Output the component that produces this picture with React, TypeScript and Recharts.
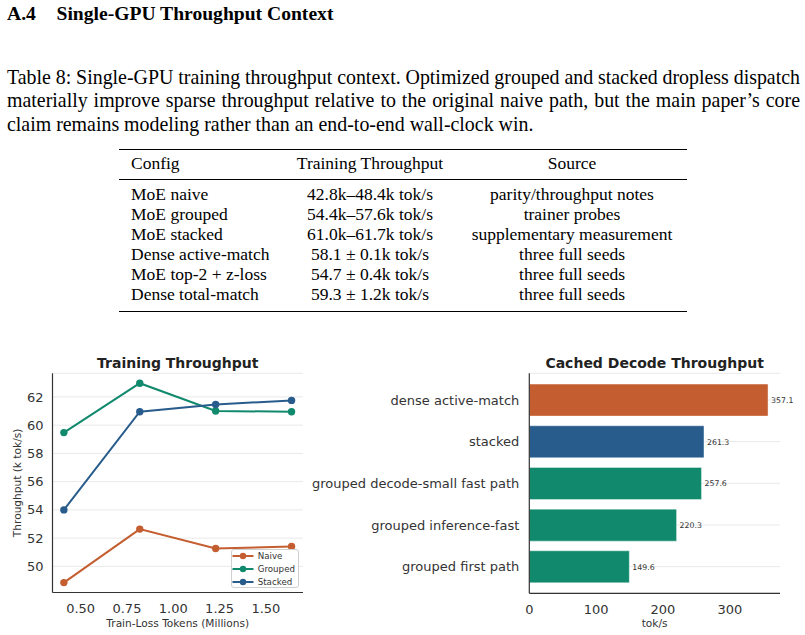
import {
  Bar,
  BarChart,
  CartesianGrid,
  Cell,
  LabelList,
  Line,
  LineChart,
  XAxis,
  YAxis,
} from "recharts";

// table 8
const tableConfigs = [
  "MoE naive",
  "MoE grouped",
  "MoE stacked",
  "Dense active-match",
  "MoE top-2 + z-loss",
  "Dense total-match",
];
const tableThroughput = [
  "42.8k–48.4k tok/s",
  "54.4k–57.6k tok/s",
  "61.0k–61.7k tok/s",
  "58.1 ± 0.1k tok/s",
  "54.7 ± 0.4k tok/s",
  "59.3 ± 1.2k tok/s",
];
const tableSources = [
  "parity/throughput notes",
  "trainer probes",
  "supplementary measurement",
  "three full seeds",
  "three full seeds",
  "three full seeds",
];

const captionLines = [
  "Table 8: Single-GPU training throughput context. Optimized grouped and stacked dropless dispatch",
  "materially improve sparse throughput relative to the original naive path, but the main paper’s core",
  "claim remains modeling rather than an end-to-end wall-clock win.",
];

// left panel
const tokenMillions = [0.4096, 0.8192, 1.2288, 1.6384];
const naiveKtok = [48.85, 52.64, 51.27, 51.41];
const groupedKtok = [59.47, 62.97, 61.0, 60.95];
const stackedKtok = [54.0, 60.95, 61.46, 61.75];
const throughputTicks = [50, 52, 54, 56, 58, 60, 62];
const tokenTicks = [0.5, 0.75, 1.0, 1.25, 1.5];

// right panel
const decodeConfigs = [
  "dense active-match",
  "stacked",
  "grouped decode-small fast path",
  "grouped inference-fast",
  "grouped first path",
];
const decodeTokPerSec = [357.1, 261.3, 257.6, 220.3, 149.6];
const decodeKinds = ["dense", "stacked", "grouped", "grouped", "grouped"];
const decodeTicks = [0, 100, 200, 300];

const ORANGE = "#c45e30";
const GREEN = "#10896c";
const BLUE = "#285c8c";
const kindColor: Record<string, string> = { dense: ORANGE, stacked: BLUE, grouped: GREEN };

const SERIF = "'Liberation Serif', 'Times New Roman', serif";
const SANS = "'DejaVu Sans', sans-serif";
const AXIS = "#333";
const GRID = "#e9e9e9";

const trainData = tokenMillions.map((x, i) => ({
  tokens: x,
  naive: naiveKtok[i],
  grouped: groupedKtok[i],
  stacked: stackedKtok[i],
}));

const decodeData = decodeConfigs.map((name, i) => ({
  name,
  value: decodeTokPerSec[i],
  kind: decodeKinds[i],
}));

const legendItems = [
  { label: "Naive", color: ORANGE },
  { label: "Grouped", color: GREEN },
  { label: "Stacked", color: BLUE },
];

function TrainLegend() {
  return (
    <div
      style={{
        position: "absolute",
        left: 230.7,
        top: 548.5,
        width: 68.5,
        height: 39.5,
        boxSizing: "border-box",
        border: "1px solid #d0d0d0",
        borderRadius: 3,
        background: "rgba(255,255,255,0.85)",
        paddingTop: 0.5,
      }}
    >
      {legendItems.map((item) => (
        <div key={item.label} style={{ display: "flex", alignItems: "center", height: 12.7 }}>
          <svg width={26} height={10}>
            <line x1={0.5} y1={5} x2={21.5} y2={5} stroke={item.color} strokeWidth={2} />
            <circle cx={11} cy={5} r={3.2} fill={item.color} />
          </svg>
          <span style={{ fontFamily: SANS, fontSize: 8.7, color: "#333", lineHeight: "10px" }}>
            {item.label}
          </span>
        </div>
      ))}
    </div>
  );
}

function TableRow({ top, cells }: { top: number; cells: string[] }) {
  const base = { position: "absolute" as const, top, fontSize: 17.5, lineHeight: "17.5px", whiteSpace: "nowrap" as const };
  return (
    <>
      <div style={{ ...base, left: 131 }}>{cells[0]}</div>
      <div style={{ ...base, left: 270, width: 200, textAlign: "center" }}>{cells[1]}</div>
      <div style={{ ...base, left: 442, width: 260, textAlign: "center" }}>{cells[2]}</div>
    </>
  );
}

export default function App() {
  const rowBaseline0 = 200.7;
  const rowStep = 19.9;
  const ascent = 14.66;
  return (
    <div
      style={{
        position: "absolute",
        left: 0,
        top: 0,
        width: 805,
        height: 635,
        background: "#fff",
        overflow: "hidden",
        fontFamily: SERIF,
        color: "#000",
      }}
    >
      {/* section heading */}
      <div style={{ position: "absolute", left: 7, top: 4.3, fontSize: 19.6, lineHeight: "19.6px", fontWeight: 700 }}>
        A.4
      </div>
      <div style={{ position: "absolute", left: 56.5, top: 4.3, fontSize: 19.6, lineHeight: "19.6px", fontWeight: 700, whiteSpace: "nowrap" }}>
        Single-GPU Throughput Context
      </div>

      {/* caption */}
      {captionLines.map((line, i) => {
        const justified = i < captionLines.length - 1;
        return (
          <div
            key={i}
            style={{
              position: "absolute",
              left: 7,
              top: 66 + i * 23.4,
              width: 793,
              fontSize: 19.9,
              lineHeight: "23.4px",
              whiteSpace: "nowrap",
              wordSpacing: justified ? "-2px" : undefined,
              textAlign: justified ? "justify" : "left",
              textAlignLast: justified ? "justify" : "left",
            }}
          >
            {line}
          </div>
        );
      })}

      {/* table */}
      <div style={{ position: "absolute", left: 119, top: 148.5, width: 568, height: 1.3, background: "#000" }} />
      <TableRow top={169.3 - ascent} cells={["Config", "Training Throughput", "Source"]} />
      <div style={{ position: "absolute", left: 119, top: 179, width: 568, height: 0.8, background: "#000" }} />
      {tableConfigs.map((cfg, i) => (
        <TableRow
          key={cfg}
          top={rowBaseline0 + i * rowStep - ascent}
          cells={[cfg, tableThroughput[i], tableSources[i]]}
        />
      ))}
      <div style={{ position: "absolute", left: 119, top: 310.5, width: 568, height: 1.3, background: "#000" }} />

      {/* left panel */}
      <div
        style={{
          position: "absolute",
          left: 52.5,
          width: 250.5,
          top: 355,
          textAlign: "center",
          fontFamily: SANS,
          fontWeight: 700,
          fontSize: 14,
          lineHeight: "16px",
          color: "#222",
        }}
      >
        Training Throughput
      </div>
      <div style={{ position: "absolute", left: 0, top: 340 }}>
        <LineChart
          width={310}
          height={295}
          data={trainData}
          margin={{ top: 33.3, right: 7, bottom: 0, left: 0 }}
          style={{ fontFamily: SANS }}
        >
          <CartesianGrid horizontal vertical={false} stroke={GRID} strokeWidth={1} />
          <XAxis
            dataKey="tokens"
            type="number"
            domain={[0.3482, 1.7002]}
            ticks={tokenTicks}
            tickFormatter={(v: number) => v.toFixed(2)}
            height={42.5}
            tickLine={false}
            tickMargin={5}
            stroke={AXIS}
            strokeWidth={1.2}
            tick={{ fill: "#333", fontSize: 13 }}
            allowDataOverflow
            label={{
              value: "Train-Loss Tokens (Millions)",
              position: "insideBottom",
              offset: 8,
              style: { fontSize: 10.6, fill: "#333" },
            }}
          />
          <YAxis
            type="number"
            domain={[48.15, 63.67]}
            ticks={throughputTicks}
            width={52.5}
            tickLine={false}
            tickMargin={3}
            stroke={AXIS}
            strokeWidth={1.2}
            tick={{ fill: "#333", fontSize: 13 }}
            allowDataOverflow
            label={{
              value: "Throughput (k tok/s)",
              angle: -90,
              position: "insideLeft",
              offset: 17.2,
              style: { fontSize: 10.6, fill: "#333", textAnchor: "middle" },
            }}
          />
          <Line
            dataKey="naive"
            name="Naive"
            stroke={ORANGE}
            strokeWidth={2}
            dot={{ r: 3.7, fill: ORANGE, stroke: ORANGE, strokeWidth: 0 }}
            isAnimationActive={false}
          />
          <Line
            dataKey="grouped"
            name="Grouped"
            stroke={GREEN}
            strokeWidth={2}
            dot={{ r: 3.7, fill: GREEN, stroke: GREEN, strokeWidth: 0 }}
            isAnimationActive={false}
          />
          <Line
            dataKey="stacked"
            name="Stacked"
            stroke={BLUE}
            strokeWidth={2}
            dot={{ r: 3.7, fill: BLUE, stroke: BLUE, strokeWidth: 0 }}
            isAnimationActive={false}
          />
        </LineChart>
      </div>
      <TrainLegend />

      {/* right panel */}
      <div
        style={{
          position: "absolute",
          left: 529.3,
          width: 250.7,
          top: 355,
          textAlign: "center",
          fontFamily: SANS,
          fontWeight: 700,
          fontSize: 14,
          lineHeight: "16px",
          color: "#222",
          whiteSpace: "nowrap",
        }}
      >
        Cached Decode Throughput
      </div>
      <div style={{ position: "absolute", left: 305, top: 340 }}>
        <BarChart
          width={500}
          height={295}
          data={decodeData}
          layout="vertical"
          margin={{ top: 33.3, right: 25, bottom: 0, left: 0 }}
          barCategoryGap={5}
          style={{ fontFamily: SANS }}
        >
          <CartesianGrid horizontal vertical={false} stroke={GRID} strokeWidth={1} />
          <XAxis
            type="number"
            domain={[0, 375]}
            ticks={decodeTicks}
            height={41.7}
            tickLine={false}
            tickMargin={5}
            stroke={AXIS}
            strokeWidth={1.2}
            tick={{ fill: "#333", fontSize: 13 }}
            allowDataOverflow
            label={{
              value: "tok/s",
              position: "insideBottom",
              offset: 8,
              style: { fontSize: 10.6, fill: "#333" },
            }}
          />
          <YAxis
            type="category"
            dataKey="name"
            width={224.3}
            padding={{ top: 5.8, bottom: 5.8 }}
            tickLine={false}
            tickMargin={4}
            stroke={AXIS}
            strokeWidth={1.2}
            tick={{ fill: "#333", fontSize: 13 }}
            interval={0}
          />
          <Bar dataKey="value" stroke="rgba(255,255,255,0.7)" strokeWidth={0.6} isAnimationActive={false}>
            {decodeData.map((d) => (
              <Cell key={d.name} fill={kindColor[d.kind]} />
            ))}
            <LabelList
              dataKey="value"
              position="right"
              offset={3}
              formatter={(v: number) => v.toFixed(1)}
              style={{ fontSize: 7.8, fill: "#333", stroke: "none" }}
            />
          </Bar>
        </BarChart>
      </div>
    </div>
  );
}
